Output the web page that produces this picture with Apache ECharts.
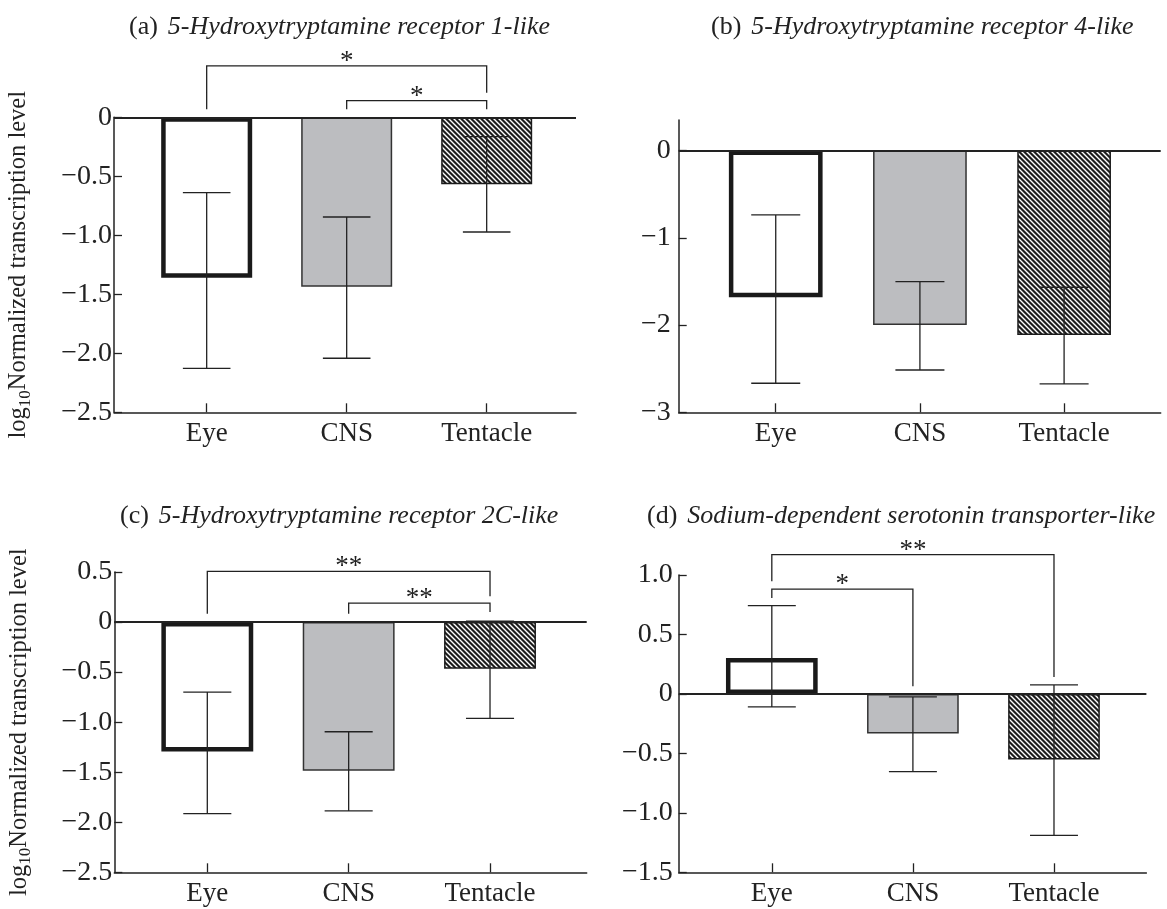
<!DOCTYPE html>
<html><head><meta charset="utf-8">
<script src="https://cdn.jsdelivr.net/npm/echarts@6/dist/echarts.min.js"></script>
<style>html,body{margin:0;padding:0;background:#fff}#c{width:1167px;height:909px}</style>
</head><body><div id="c"></div>
<script>
// ---------------- data ----------------
const categories = ['Eye', 'CNS', 'Tentacle'];
const panelLetters = ['(a)', '(b)', '(c)', '(d)'];
const geneNames = [
  '5-Hydroxytryptamine receptor 1-like',
  '5-Hydroxytryptamine receptor 4-like',
  '5-Hydroxytryptamine receptor 2C-like',
  'Sodium-dependent serotonin transporter-like'
];
const yAxisName = 'Normalized transcription level';

const meanA = [-1.36, -1.435, -0.568];
const lowA  = [-2.127, -2.042, -0.972];
const highA = [-0.638, -0.845, -0.164];

const meanB = [-1.68, -2.0, -2.114];
const lowB  = [-2.667, -2.515, -2.675];
const highB = [-0.738, -1.502, -1.567];

const meanC = [-1.294, -1.485, -0.466];
const lowC  = [-1.913, -1.887, -0.962];
const highC = [-0.70, -1.096, 0.01];

const meanD = [0.302, -0.333, -0.552];
const lowD  = [-0.109, -0.653, -1.19];
const highD = [0.742, -0.025, 0.076];

// significance brackets: [from category #, to category #, bracket top, from-end, to-end, label]
const sigA = [[1, 3, 0.435, 0.068, 0.209, '*'], [2, 3, 0.141, 0.068, 0.068, '*']];
const sigB = [];
const sigC = [[1, 3, 0.507, 0.084, 0.258, '**'], [2, 3, 0.19, 0.084, 0.1, '**']];
const sigD = [[1, 3, 1.171, 0.947, 0.143, '**'], [1, 2, 0.882, 0.807, 0.064, '*']];

const yTicksA = [-2.5, -2.0, -1.5, -1.0, -0.5, 0];
const yTicksB = [-3, -2, -1, 0];
const yTicksC = [-2.5, -2.0, -1.5, -1.0, -0.5, 0, 0.5];
const yTicksD = [-1.5, -1.0, -0.5, 0, 0.5, 1.0];

// ---------------- styling ----------------
const FONT = "'Liberation Serif','Times New Roman',serif";
const INK = '#222';

function makeHatch() {
  const p = 5;
  const cv = document.createElement('canvas');
  cv.width = p; cv.height = p;
  const ctx = cv.getContext('2d');
  ctx.fillStyle = '#1c1c1c';
  ctx.fillRect(0, 0, p, p);
  ctx.strokeStyle = '#ffffff';
  ctx.lineWidth = 1.4;
  ctx.beginPath();
  ctx.moveTo(-1, -1); ctx.lineTo(p + 1, p + 1);
  ctx.moveTo(-1, p - 1); ctx.lineTo(1, p + 1);
  ctx.moveTo(p - 1, -1); ctx.lineTo(p + 1, 1);
  ctx.stroke();
  return cv;
}
const hatch = makeHatch();

const barStyles = [
  { color: '#ffffff', borderColor: '#1a1a1a', borderWidth: 4.5 },
  { color: '#bcbdc0', borderColor: '#333', borderWidth: 1.5 },
  { color: { image: hatch, repeat: 'repeat' }, borderColor: '#1a1a1a', borderWidth: 1.5 }
];

const panels = [
  { grid: { left: 114, top: 117.3, width: 462, height: 295 }, xmin: 0.338, xmax: 3.638,
    ymin: -2.5, ymax: 0, interval: 0.5, ticks: yTicksA, dec: 1, labelMargin: 2, name: true,
    mean: meanA, low: lowA, high: highA, sig: sigA, title: { left: 124, top: 9 } },
  { grid: { left: 678.7, top: 120, width: 482, height: 292.3 }, xmin: 0.327, xmax: 3.67,
    ymin: -3, ymax: 0.35, interval: 1, ticks: yTicksB, dec: 0, labelMargin: 8, name: false,
    mean: meanB, low: lowB, high: highB, sig: sigB, title: { left: 706, top: 9 } },
  { grid: { left: 114.3, top: 572, width: 472.4, height: 300.3 }, xmin: 0.342, xmax: 3.684,
    ymin: -2.5, ymax: 0.5, interval: 0.5, ticks: yTicksC, dec: 1, labelMargin: 2, name: true,
    mean: meanC, low: lowC, high: highC, sig: sigC, title: { left: 115, top: 498 } },
  { grid: { left: 678.7, top: 575, width: 467.7, height: 297.3 }, xmin: 0.34, xmax: 3.655,
    ymin: -1.5, ymax: 1.0, interval: 0.5, ticks: yTicksD, dec: 1, labelMargin: 6, name: false,
    mean: meanD, low: lowD, high: highD, sig: sigD, title: { left: 642, top: 498 } }
];

function fmtY(dec) {
  return function (v) {
    if (Math.abs(v) < 1e-9) return '0';
    return (v < 0 ? '\u2212' : '') + Math.abs(v).toFixed(dec);
  };
}

const option = {
  backgroundColor: '#fff',
  animation: false,
  title: [], grid: [], xAxis: [], yAxis: [], series: []
};

panels.forEach(function (p, idx) {
  option.title.push({
    left: p.title.left, top: p.title.top,
    text: '{p|' + panelLetters[idx] + '}  {i|' + geneNames[idx] + '}',
    textStyle: {
      fontWeight: 'normal',
      rich: {
        p: { fontFamily: FONT, fontSize: 26, fontWeight: 'normal', color: INK },
        i: { fontFamily: FONT, fontSize: 26, fontWeight: 'normal', fontStyle: 'italic', color: INK }
      }
    }
  });
  option.grid.push(Object.assign({ containLabel: false }, p.grid));
  option.xAxis.push({
    type: 'value', gridIndex: idx, min: p.xmin, max: p.xmax,
    splitLine: { show: false },
    axisLine: { show: true, onZero: false, lineStyle: { color: INK, width: 1.5 } },
    axisTick: { show: true, inside: true, length: 9, customValues: [1, 2, 3], lineStyle: { color: INK, width: 1.3 } },
    axisLabel: {
      show: true, customValues: [1, 2, 3], margin: 8,
      formatter: function (v) { return categories[Math.round(v) - 1] || ''; },
      fontFamily: FONT, fontSize: 27, color: INK
    }
  });
  const y = {
    type: 'value', gridIndex: idx, min: p.ymin, max: p.ymax, interval: p.interval,
    splitLine: { show: false },
    axisLine: { show: true, onZero: false, lineStyle: { color: INK, width: 1.5 } },
    axisTick: { show: true, inside: true, length: 8, customValues: p.ticks, lineStyle: { color: INK, width: 1.3 } },
    axisLabel: {
      show: true, customValues: p.ticks, margin: p.labelMargin, formatter: fmtY(p.dec),
      fontFamily: FONT, fontSize: 28, color: INK
    }
  };
  if (p.name) {
    y.name = '{n|log}{s|10}{n|' + yAxisName + '}';
    y.nameLocation = 'middle';
    y.nameRotate = 90;
    y.nameGap = 80;
    y.nameTextStyle = {
      rich: {
        n: { fontFamily: FONT, fontSize: 24.5, color: INK, lineHeight: 30, verticalAlign: 'middle' },
        s: { fontFamily: FONT, fontSize: 17, color: INK, lineHeight: 30, verticalAlign: 'bottom', padding: [8, 0, 0, 0] }
      }
    };
  }
  option.yAxis.push(y);

  // bars
  option.series.push({
    type: 'bar', xAxisIndex: idx, yAxisIndex: idx, barWidth: '65%', z: 2, silent: true,
    data: p.mean.map(function (v, i) { return { value: [i + 1, v], itemStyle: barStyles[i] }; }),
    markLine: {
      silent: true, symbol: 'none', label: { show: false },
      lineStyle: { color: INK, width: 2, type: 'solid' },
      data: [{ yAxis: 0 }]
    }
  });
  // error bars
  option.series.push({
    type: 'custom', xAxisIndex: idx, yAxisIndex: idx, z: 5, silent: true, clip: false,
    data: categories.map(function (c, i) { return [i + 1, p.low[i], p.high[i]]; }),
    renderItem: function (params, api) {
      const x = api.value(0), lo = api.value(1), hi = api.value(2);
      const a = api.coord([x, lo]), b = api.coord([x, hi]);
      const half = api.coord([x + 0.17, lo])[0] - a[0];
      const st = { stroke: INK, lineWidth: 1.3 };
      return { type: 'group', children: [
        { type: 'line', shape: { x1: a[0], y1: a[1], x2: b[0], y2: b[1] }, style: st },
        { type: 'line', shape: { x1: a[0] - half, y1: a[1], x2: a[0] + half, y2: a[1] }, style: st },
        { type: 'line', shape: { x1: b[0] - half, y1: b[1], x2: b[0] + half, y2: b[1] }, style: st }
      ] };
    }
  });
  // significance brackets
  if (p.sig.length) {
    option.series.push({
      type: 'custom', xAxisIndex: idx, yAxisIndex: idx, z: 6, silent: true, clip: false,
      data: p.sig.map(function (s) { return s.slice(0, 5); }),
      renderItem: function (params, api) {
        const s = p.sig[params.dataIndex];
        const p1 = api.coord([api.value(0), api.value(3)]);
        const p2 = api.coord([api.value(0), api.value(2)]);
        const p3 = api.coord([api.value(1), api.value(2)]);
        const p4 = api.coord([api.value(1), api.value(4)]);
        return { type: 'group', children: [
          { type: 'polyline', shape: { points: [p1, p2, p3, p4] }, style: { stroke: INK, lineWidth: 1.3, fill: null } },
          { type: 'text', x: (p2[0] + p3[0]) / 2, y: p2[1] - 4,
            style: { text: s[5], fontFamily: FONT, fontSize: 27, fill: INK, align: 'center', verticalAlign: 'middle' } }
        ] };
      }
    });
  }
});

const chart = echarts.init(document.getElementById('c'), null, { renderer: 'canvas' });
chart.setOption(option);
</script>
</body></html>
